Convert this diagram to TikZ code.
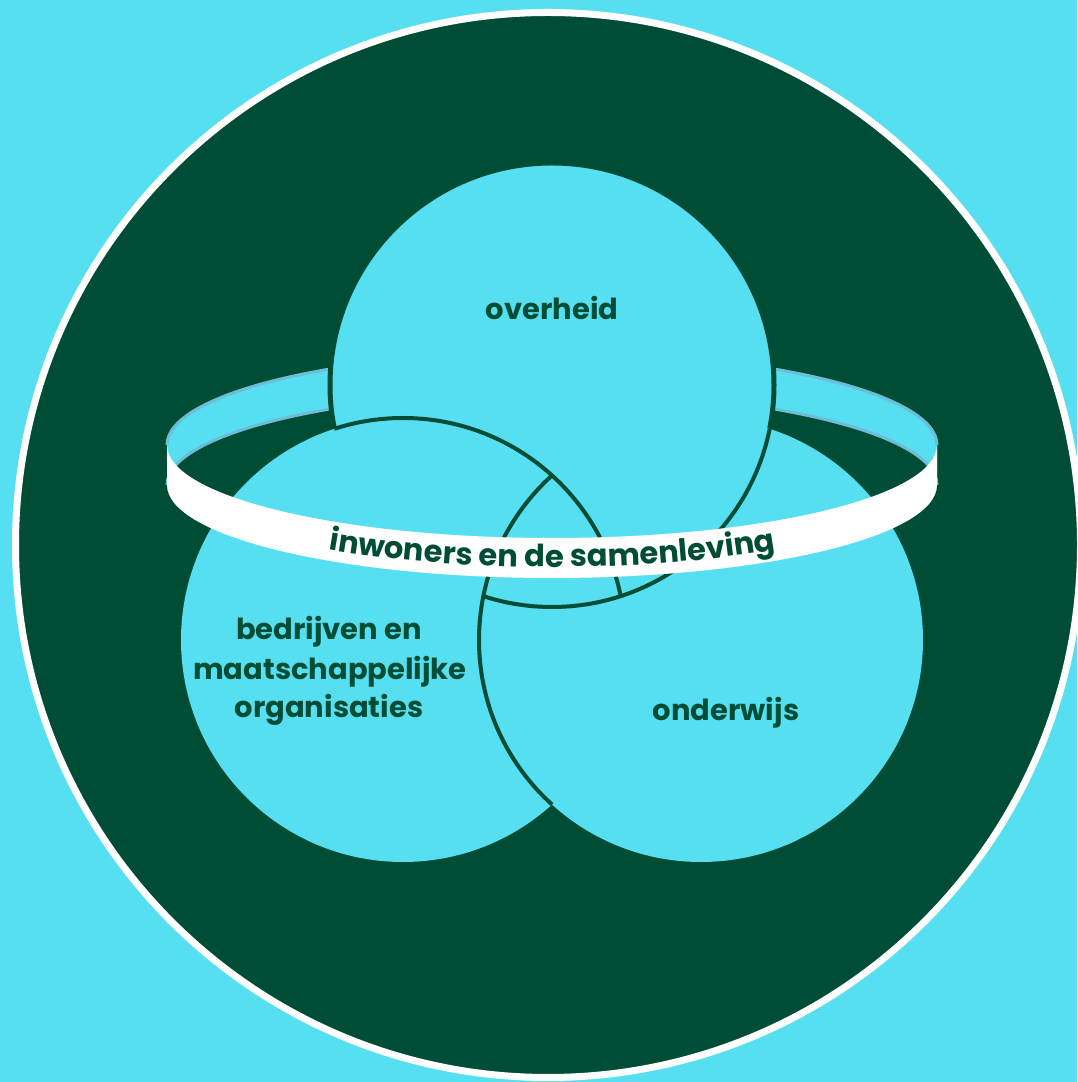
\documentclass[tikz,border=0pt]{standalone}
\usepackage{fontspec}
\setmainfont{Poppins}
\usetikzlibrary{decorations.text}
\definecolor{cyanbg}{RGB}{86,223,240}
\definecolor{dkgreen}{RGB}{0,77,54}
\definecolor{bandedge}{RGB}{108,190,214}
\tikzset{
  outl/.style={draw=dkgreen, line width=4},
  lbl/.style={text=dkgreen, font=\bfseries\fontsize{29}{29}\selectfont, anchor=base, inner sep=0},
}
\begin{document}
\begin{tikzpicture}[x=1pt,y=1pt]
\useasboundingbox (0,0) rectangle (1077,1082);
\fill[cyanbg] (0,0) rectangle (1077,1082);
% big dark circle
\fill[dkgreen] (548,537) circle[radius=532.5];
\draw[white, line width=7] (548,537) circle[radius=532.5];
% back part of the band
\fill[cyanbg] (167,637) arc[start angle=180, end angle=0, x radius=385, y radius=93]
  -- (937,597) arc[start angle=0, end angle=180, x radius=385, y radius=93] -- cycle;
\draw[bandedge, line width=3] (167,637) arc[start angle=180, end angle=0, x radius=385, y radius=93];
\draw[bandedge, line width=3] (937,597) arc[start angle=0, end angle=180, x radius=385, y radius=93];
% circles
\fill[cyanbg] (552,697) circle[radius=222];
\draw[dkgreen, line width=5] (552,697) circle[radius=222];
\fill[cyanbg] (403,442) circle[radius=222];
\fill[cyanbg] (701,442) circle[radius=222];
\begin{scope}
  \clip (552,697) circle[radius=222];
  \draw[outl] (403,442) circle[radius=222];
\end{scope}
\begin{scope}
  \clip (403,442) circle[radius=222];
  \draw[outl] (701,442) circle[radius=222];
\end{scope}
\begin{scope}
  \clip (701,442) circle[radius=222];
  \draw[outl] (552,697) circle[radius=222];
\end{scope}
% front part of the band
\fill[white] (167,637) arc[start angle=180, end angle=360, x radius=385, y radius=93]
  -- (937,597) arc[start angle=0, end angle=-180, x radius=385, y radius=93] -- cycle;
\path[decorate, decoration={text along path, text align=center, text color=dkgreen,
  text={|\bfseries\fontsize{30.5}{30.5}\selectfont|inwoners en de samenleving}}]
  (167,608) arc[start angle=180, end angle=360, x radius=385, y radius=93];
% labels
\node[lbl] (overheid) at (552,762) {overheid};
\node[lbl] (bedr1) at (329,442) {bedrijven en};
\node[lbl] (bedr2) at (330,402) {maatschappelijke};
\node[lbl] (bedr3) at (329,364) {organisaties};
\node[lbl] (onderwijs) at (726,361) {onderwijs};
\end{tikzpicture}
\end{document}
